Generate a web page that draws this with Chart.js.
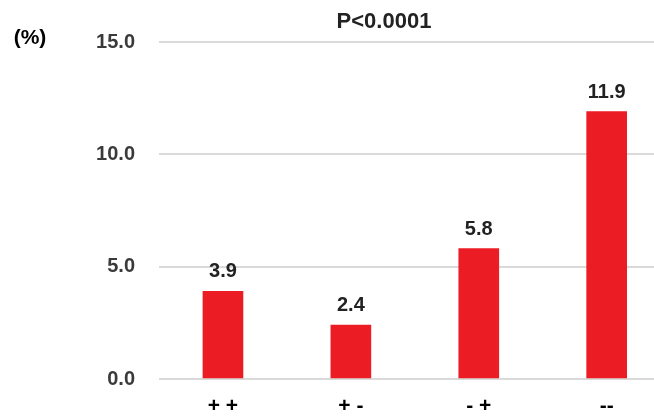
<!DOCTYPE html>
<html>
<head>
<meta charset="utf-8">
<script src="https://cdn.jsdelivr.net/npm/chart.js@4.4.1/dist/chart.umd.min.js"></script>
<style>
    body { margin: 0; background: #fff; }
    canvas { display: block; }
</style>
</head>
<body>
<canvas id="myChart" width="654" height="420"></canvas>
<script>
const groups = ["+ +", "+ -", "- +", "--"];
const rates = [3.9, 2.4, 5.8, 11.9];
const yTicks = [0, 5, 10, 15];
const pText = "P<0.0001";
const unitText = "(%)";

const FONT = "'Liberation Sans', Arial, sans-serif";

// value labels above the bars, plus the p-value and unit captions
const annotations = {
    id: 'annotations',
    afterDatasetsDraw(chart) {
        const ctx = chart.ctx;
        const meta = chart.getDatasetMeta(0);
        ctx.save();
        ctx.fillStyle = '#222';
        ctx.font = "bold 20px " + FONT;
        ctx.textAlign = 'center';
        ctx.textBaseline = 'alphabetic';
        meta.data.forEach((bar, i) => {
            ctx.fillText(rates[i].toFixed(1), bar.x, bar.y - 14);
        });

        ctx.font = "bold 22px " + FONT;
        ctx.fillText(pText, 384, 28);

        ctx.fillStyle = '#000';
        ctx.font = "bold 21px " + FONT;
        ctx.fillText(unitText, 30, 44);
        ctx.restore();
    }
};

const ctx = document.getElementById('myChart').getContext('2d');

new Chart(ctx, {
    type: 'bar',
    data: {
        datasets: [{
            data: groups.map((g, i) => ({ x: i, y: rates[i] })),
            backgroundColor: '#ec1c24',
            borderWidth: 0,
            barThickness: 40
        }]
    },
    options: {
        responsive: false,
        animation: false,
        layout: { padding: { top: 42, right: 0, bottom: 5, left: 0 } },
        plugins: {
            legend: { display: false },
            tooltip: { enabled: false }
        },
        scales: {
            x: {
                type: 'linear',
                offset: false,
                min: -0.5,
                max: 3.37,
                afterBuildTicks: scale => {
                    scale.ticks = groups.map((g, i) => ({ value: i }));
                },
                afterFit: scale => { scale.height = 36; },
                ticks: {
                    padding: 7,
                    color: '#000',
                    font: { family: FONT, size: 21, weight: 'bold' },
                    callback: value => groups[value]
                },
                grid: { display: false, offset: false },
                border: { display: false }
            },
            y: {
                min: 0,
                max: 15,
                afterBuildTicks: scale => {
                    scale.ticks = yTicks.map(v => ({ value: v }));
                },
                afterFit: scale => { scale.width = 159; },
                ticks: {
                    padding: 24,
                    color: '#3a3a3a',
                    font: { family: FONT, size: 20, weight: 'bold' },
                    callback: value => value.toFixed(1)
                },
                grid: { color: '#dadada', lineWidth: 2, drawTicks: false },
                border: { display: false }
            }
        }
    },
    plugins: [annotations]
});
</script>
</body>
</html>
